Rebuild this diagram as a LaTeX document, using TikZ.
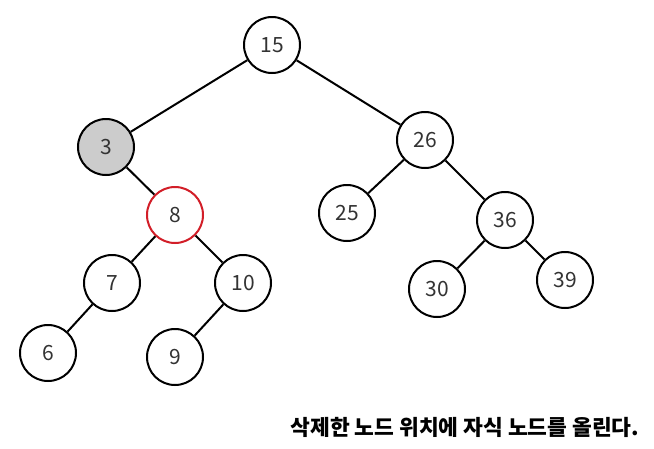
\documentclass[tikz,border=0pt]{standalone}
\usepackage{fontspec}
\setmainfont{Noto Sans CJK KR}
\newfontfamily\kr{Noto Sans CJK KR}
\begin{document}
\begin{tikzpicture}[x=1pt,y=-1pt,
  tn/.style={circle,draw=black,line width=2pt,minimum size=56pt,inner sep=0pt,fill=white,font=\fontsize{21}{24}\selectfont,text=black!80},
  edge/.style={line width=2pt}]
\useasboundingbox (0,0) rectangle (654,448);
\node[tn] (n15) at (272,45) {15};
\node[tn,fill=black!20] (n3) at (106,147) {3};
\node[tn] (n26) at (425,140) {26};
\node[tn,draw={rgb,255:red,210;green,30;blue,40}] (n8) at (175,215) {8};
\node[tn] (n25) at (347,213) {25};
\node[tn] (n36) at (505,220) {36};
\node[tn] (n7) at (112,283) {7};
\node[tn] (n10) at (243,283) {10};
\node[tn] (n30) at (437,289) {30};
\node[tn] (n39) at (565,280) {39};
\node[tn] (n6) at (48,353) {6};
\node[tn] (n9) at (175,357) {9};
\draw[edge] (n15) -- (n3);
\draw[edge] (n15) -- (n26);
\draw[edge] (n3) -- (n8);
\draw[edge] (n26) -- (n25);
\draw[edge] (n26) -- (n36);
\draw[edge] (n8) -- (n7);
\draw[edge] (n8) -- (n10);
\draw[edge] (n36) -- (n30);
\draw[edge] (n36) -- (n39);
\draw[edge] (n7) -- (n6);
\draw[edge] (n10) -- (n9);
\node[font=\kr\bfseries\fontsize{21.5}{24}\selectfont] (cap) at (465,427) {삭제한 노드 위치에 자식 노드를 올린다.};
\end{tikzpicture}
\end{document}
